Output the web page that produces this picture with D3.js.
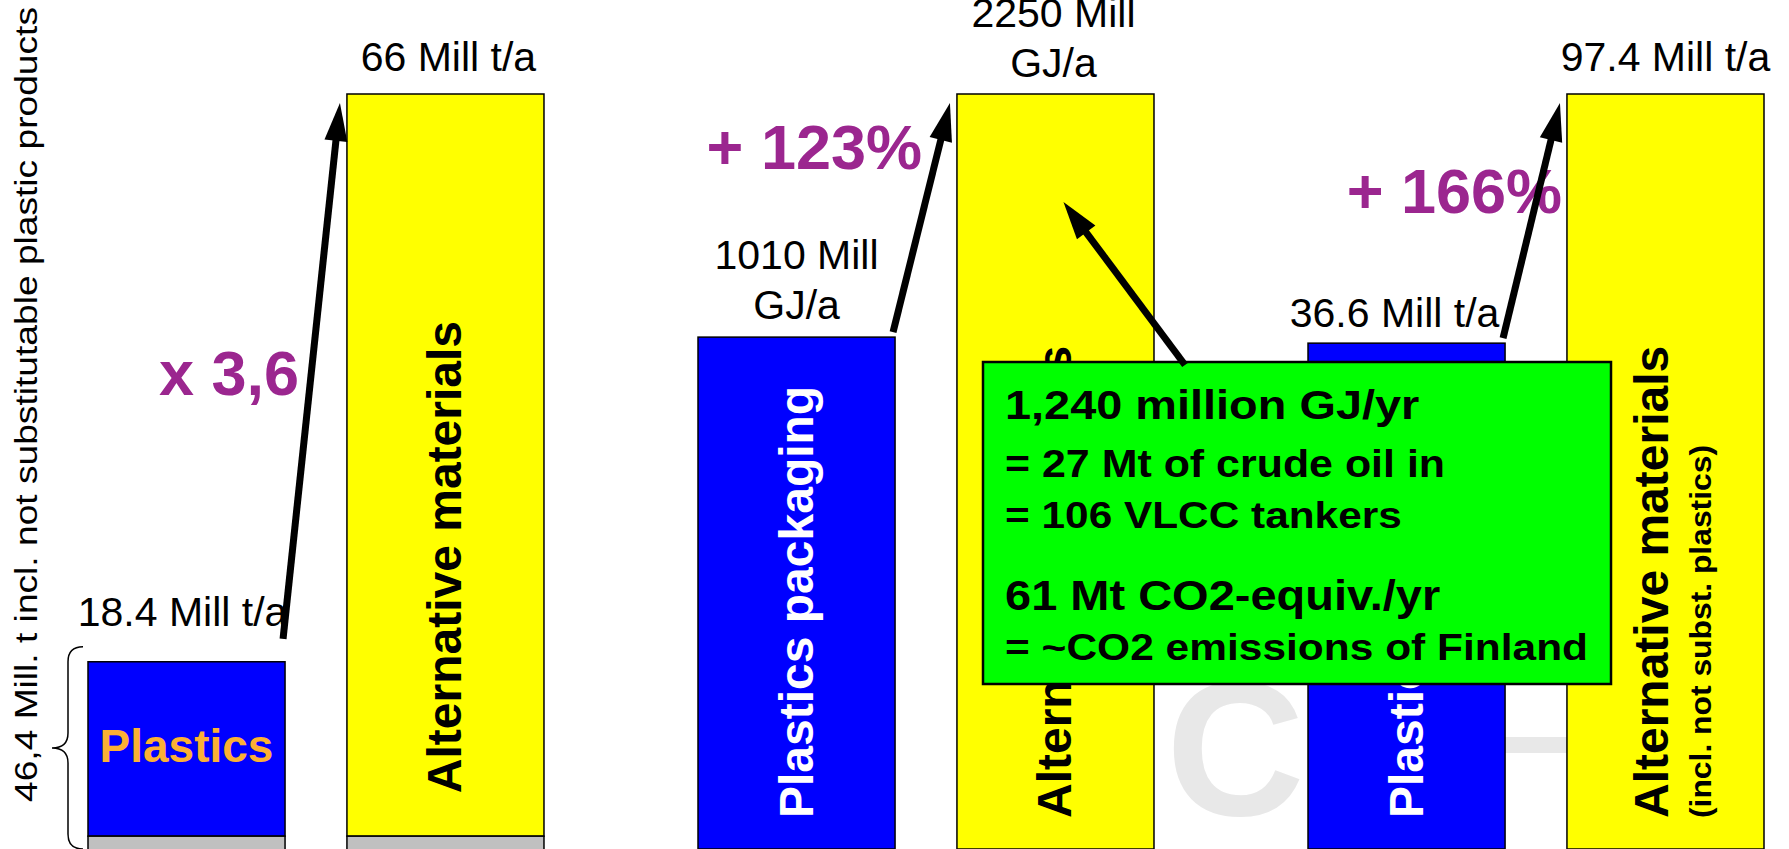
<!DOCTYPE html>
<html>
<head>
<meta charset="utf-8">
<script src="https://cdn.jsdelivr.net/npm/d3@7"></script>
<style>
  html, body { margin: 0; padding: 0; background: #fff; overflow: hidden; }
  svg { display: block; }
  text { font-family: "Liberation Sans", Arial, sans-serif; }
</style>
</head>
<body>
<div id="chart"></div>
<script>
// --- data ---
const groups = ["mass", "energy", "ghg"];
const barKinds = ["plastics", "alternative"];
// bar order: group by group, plastics first
const barNames = ["Plastics", "Alternative materials", "Plastics packaging",
                  "Alternative materials", "Plastics packaging", "Alternative materials"];
const barLabels = [["18.4 Mill t/a"], ["66 Mill t/a"], ["1010 Mill", "GJ/a"],
                   ["2250 Mill", "GJ/a"], ["36.6 Mill t/a"], ["97.4 Mill t/a"]];
// drawn bar height, % of the tallest bar (the slide is not to scale)
const barLevel = [24.8, 100, 67.8, 100, 67.0, 100];
// grey "not substitutable" part at the foot of the first pair
const baseLevel = [1.7, 1.7, 0, 0, 0, 0];
const changeLabels = ["x 3,6", "+ 123%", "+ 166%"];
const calloutLines = ["1,240 million GJ/yr", "= 27 Mt of crude oil in", "= 106 VLCC tankers",
                      "61 Mt CO2-equiv./yr", "= ~CO2 emissions of Finland"];
const sideNote = "46,4 Mill. t incl. not substitutable plastic products";
const subNote = "(incl. not subst. plastics)";

// --- layout ---
const W = 1789, H = 849;
const colors = { plastics: "#0000ff", alternative: "#ffff00" };

const svg = d3.select("#chart").append("svg")
    .attr("width", W)
    .attr("height", H);

const x0 = d3.scaleBand().domain(groups).range([88, 1764]).paddingInner(0.2525);
const x1 = d3.scaleBand().domain(barKinds).range([0, x0.bandwidth()]).paddingInner(0.239);
const y = d3.scaleLinear().domain([0, 100]).range([H, 94]);

const bars = barNames.map((name, i) => ({
    name: name,
    group: groups[Math.floor(i / 2)],
    kind: barKinds[i % 2],
    level: barLevel[i],
    base: baseLevel[i],
    label: barLabels[i]
}));
const bx = d => x0(d.group) + x1(d.kind);
const bw = x1.bandwidth();

// watermark behind the bars
const wm = svg.append("g").attr("fill", "#e8e8e8");
wm.append("text")
    .attr("x", 1166).attr("y", 815)
    .attr("font-size", 192).attr("font-weight", "bold")
    .text("C");
wm.append("rect").attr("x", 1480).attr("y", 737).attr("width", 120).attr("height", 16);

// bars
const barG = svg.append("g");
barG.selectAll("rect.bar")
    .data(bars)
    .join("rect")
    .attr("class", "bar")
    .attr("x", bx)
    .attr("y", d => y(d.level))
    .attr("width", bw)
    .attr("height", d => y(d.base) - y(d.level))
    .attr("fill", d => colors[d.kind])
    .attr("stroke", "#000")
    .attr("stroke-width", 1.5);

barG.selectAll("rect.base")
    .data(bars.filter(d => d.base > 0))
    .join("rect")
    .attr("class", "base")
    .attr("x", bx)
    .attr("y", d => y(d.base))
    .attr("width", bw)
    .attr("height", d => y(0) - y(d.base) + 2)
    .attr("fill", "#c0c0c0")
    .attr("stroke", "#000")
    .attr("stroke-width", 1.5);

// names inside bars
bars.forEach((d, i) => {
    const cx = bx(d) + bw / 2;
    if (i === 0) {
        svg.append("text")
            .attr("x", cx).attr("y", 762)
            .attr("text-anchor", "middle")
            .attr("font-size", 46).attr("font-weight", "bold")
            .attr("fill", "#fbb034")
            .text(d.name);
        return;
    }
    const startY = d.base > 0 ? y(d.base) - 43 : H - 31;
    const hasSub = i === 5;
    const tx = hasSub ? cx + 2.5 : cx + 16;
    svg.append("text")
        .attr("transform", `translate(${tx},${startY}) rotate(-90)`)
        .attr("font-size", 48).attr("font-weight", "bold")
        .attr("fill", d.kind === "plastics" ? "#fff" : "#000")
        .text(d.name);
    if (hasSub) {
        svg.append("text")
            .attr("transform", `translate(${cx + 45.5},${startY}) rotate(-90)`)
            .attr("font-size", 30).attr("font-weight", "bold")
            .attr("textLength", 373).attr("lengthAdjust", "spacingAndGlyphs")
            .text(subNote);
    }
});

// value labels above the bars
const labelLift = [36, 23, 18, 17, 16, 23];
const labelShift = [-4, 3, 0, -2, -12, 0];
bars.forEach((d, i) => {
    const t = svg.append("text")
        .attr("text-anchor", "middle")
        .attr("font-size", 41)
        .attr("fill", "#000");
    const n = d.label.length;
    d.label.forEach((line, k) => {
        t.append("tspan")
            .attr("x", bx(d) + bw / 2 + labelShift[i])
            .attr("y", y(d.level) - labelLift[i] - (n - 1 - k) * 50)
            .text(line);
    });
});

// side note with brace
const braceTop = y(barLevel[0]) - 15, braceBot = H, braceMid = (braceTop + braceBot) / 2;
const bp = d3.path();
bp.moveTo(83, braceTop);
bp.quadraticCurveTo(68, braceTop, 68, braceTop + 15);
bp.lineTo(68, braceMid - 15);
bp.quadraticCurveTo(68, braceMid, 52, braceMid);
bp.quadraticCurveTo(68, braceMid, 68, braceMid + 15);
bp.lineTo(68, braceBot - 15);
bp.quadraticCurveTo(68, braceBot, 83, braceBot);
svg.append("path").attr("d", bp.toString())
    .attr("fill", "none").attr("stroke", "#000").attr("stroke-width", 1.5);

svg.append("text")
    .attr("transform", "translate(37,802) rotate(-90)")
    .attr("font-size", 32)
    .attr("textLength", 795).attr("lengthAdjust", "spacingAndGlyphs")
    .text(sideNote);

// change factors
const changeEnd = [14, 27, 57];
const changeY = [395, 169, 213];
changeLabels.forEach((c, g) => {
    const small = bars[g * 2];
    svg.append("text")
        .attr("x", bx(small) + bw + changeEnd[g])
        .attr("y", changeY[g])
        .attr("text-anchor", "end")
        .attr("font-size", 63).attr("font-weight", "bold")
        .attr("fill", "#9b268f")
        .text(c);
});

// callout box
const box = { x: 983, y: 362, w: 628, h: 322 };
svg.append("rect")
    .attr("x", box.x).attr("y", box.y)
    .attr("width", box.w).attr("height", box.h)
    .attr("fill", "#00ff00")
    .attr("stroke", "#000").attr("stroke-width", 2.5);

const lineSize = [41.5, 38, 37.5, 41.6, 37.6];
const lineY = [419, 477, 528, 610, 660];
const calloutG = svg.append("g")
    .attr("transform", `translate(${box.x + 22},0) scale(1.13,1)`);
calloutG.selectAll("text")
    .data(calloutLines)
    .join("text")
    .attr("x", 0)
    .attr("y", (d, i) => lineY[i])
    .attr("font-size", (d, i) => lineSize[i])
    .attr("font-weight", "bold")
    .attr("fill", "#000")
    .text(d => d);

// arrows
function arrow(xa, ya, xb, yb) {
    const len = Math.hypot(xb - xa, yb - ya);
    const ux = (xb - xa) / len, uy = (yb - ya) / len;
    const headL = 38, headW = 11.5;
    const hx = xb - ux * headL, hy = yb - uy * headL;
    svg.append("line")
        .attr("x1", xa).attr("y1", ya)
        .attr("x2", hx + ux * 3).attr("y2", hy + uy * 3)
        .attr("stroke", "#000").attr("stroke-width", 7);
    svg.append("path")
        .attr("d", `M${xb},${yb}L${hx - uy * headW},${hy + ux * headW}L${hx + uy * headW},${hy - ux * headW}Z`)
        .attr("fill", "#000");
}

const tailLift = [23, 5, 5];
groups.forEach((g, k) => {
    const small = bars[k * 2], big = bars[k * 2 + 1];
    arrow(bx(small) + bw - 2, y(small.level) - tailLift[k], bx(big) - 7, y(big.level) + 9);
});
// callout pointer into the second alternative bar
const alt2 = bars[3];
arrow(box.x + 202, box.y + 3, bx(alt2) + bw / 2 + 8, y(alt2.level) + 108);
</script>
</body>
</html>
